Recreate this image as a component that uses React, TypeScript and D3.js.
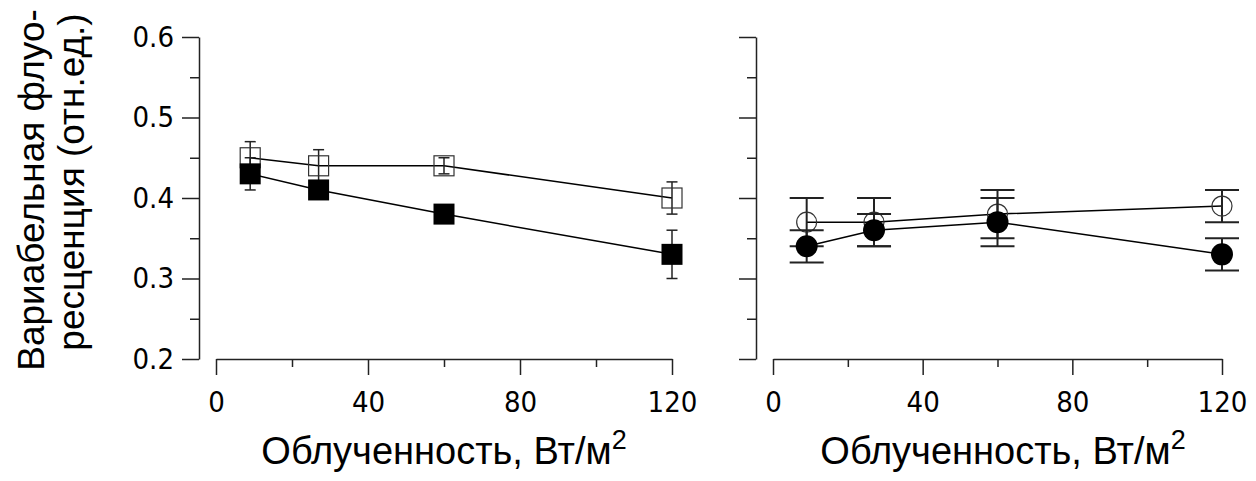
import React, { useEffect, useRef } from 'react';
import * as d3 from 'd3';

// irradiance, W/m2
const irradiance = [9, 27, 60, 120];

// left panel (squares)
const leftOpen = [0.45, 0.44, 0.44, 0.4];
const leftOpenErr = [0.02, 0.02, 0.01, 0.02];
const leftFilled = [0.43, 0.41, 0.38, 0.33];
const leftFilledErr = [0.02, 0.01, 0.01, 0.03];

// right panel (circles)
const rightOpen = [0.37, 0.37, 0.38, 0.39];
const rightOpenErr = [0.03, 0.03, 0.03, 0.02];
const rightFilled = [0.34, 0.36, 0.37, 0.33];
const rightFilledErr = [0.02, 0.02, 0.03, 0.02];

const xMajor = [0, 40, 80, 120];
const xMinor = [20, 60, 100];
const yMajor = [0.2, 0.3, 0.4, 0.5, 0.6];
const yMinor = [0.25, 0.35, 0.45, 0.55];

const xTitle = 'Облученность, Вт/м';
const yTitle1 = 'Вариабельная флуо-';
const yTitle2 = 'ресценция (отн.ед.)';

const W = 1256;
const H = 481;
const tickFont = '"DejaVu Sans Condensed", "DejaVu Sans", Verdana, sans-serif';
const titleFont = '"Liberation Sans", Arial, sans-serif';

const App = () => {
  const ref = useRef<SVGSVGElement>(null);

  useEffect(() => {
    const svg = d3.select(ref.current);
    svg.selectAll('*').remove();

    const y = d3.scaleLinear().domain([0.2, 0.6]).range([359, 37]);

    const panels = [
      {
        axisX: 199, x0: 216, x1: 672, labels: true, titleX: 444, shape: 'square',
        series: [
          { v: leftOpen, e: leftOpenErr, filled: false },
          { v: leftFilled, e: leftFilledErr, filled: true },
        ],
        cap: 5.5, errW: 1.5,
      },
      {
        axisX: 756, x0: 773, x1: 1222, labels: false, titleX: 1003, shape: 'circle',
        series: [
          { v: rightOpen, e: rightOpenErr, filled: false },
          { v: rightFilled, e: rightFilledErr, filled: true },
        ],
        cap: 17, errW: 2,
      },
    ];

    panels.forEach((p) => {
      const x = d3.scaleLinear().domain([0, 120]).range([p.x0, p.x1]);
      const g = svg.append('g');

      // y axis
      const yAx = g.append('g').attr('transform', `translate(${p.axisX},0)`);
      yAx.call(
        d3.axisLeft(y).tickValues(yMajor).tickSize(17).tickSizeOuter(0).tickPadding(8)
          .tickFormat(p.labels ? (d3.format('.1f') as any) : () => '')
      );
      yAx.append('g').call(
        d3.axisLeft(y).tickValues(yMinor).tickSize(9).tickSizeOuter(0).tickFormat(() => '')
      ).select('.domain').remove();

      // x axis
      const xAx = g.append('g').attr('transform', 'translate(0,359)');
      xAx.call(d3.axisBottom(x).tickValues(xMajor).tickSize(16).tickSizeOuter(0).tickPadding(16));
      xAx.append('g').call(
        d3.axisBottom(x).tickValues(xMinor).tickSize(8).tickSizeOuter(0).tickFormat(() => '')
      ).select('.domain').remove();

      g.selectAll('.domain, .tick line').attr('stroke', '#222').attr('stroke-width', 1.5);
      g.selectAll('.tick text')
        .attr('fill', '#000')
        .style('font-family', tickFont)
        .style('font-size', '29px');

      // x title
      const t = g.append('text')
        .attr('x', p.titleX)
        .attr('y', 464)
        .attr('text-anchor', 'middle')
        .style('font-family', titleFont)
        .style('font-size', '38px')
        .text(xTitle);
      t.append('tspan').attr('dy', -15).style('font-size', '27px').text('2');

      // series
      p.series.forEach((s) => {
        const pts = irradiance.map((xi, i) => ({ x: x(xi), y: y(s.v[i]), lo: y(s.v[i] - s.e[i]), hi: y(s.v[i] + s.e[i]) }));

        g.append('path')
          .attr('d', d3.line<any>().x((d) => d.x).y((d) => d.y)(pts))
          .attr('fill', 'none')
          .attr('stroke', '#000')
          .attr('stroke-width', 1.5);

        const eb = g.append('g').attr('stroke', '#222').attr('stroke-width', p.errW);
        pts.forEach((d) => {
          eb.append('line').attr('x1', d.x).attr('x2', d.x).attr('y1', d.lo).attr('y2', d.hi);
          eb.append('line').attr('x1', d.x - p.cap).attr('x2', d.x + p.cap).attr('y1', d.lo).attr('y2', d.lo);
          eb.append('line').attr('x1', d.x - p.cap).attr('x2', d.x + p.cap).attr('y1', d.hi).attr('y2', d.hi);
        });

        const mk = g.append('g');
        pts.forEach((d) => {
          if (p.shape === 'square') {
            const size = s.filled ? 21 : 20;
            mk.append('rect')
              .attr('x', d.x - size / 2).attr('y', d.y - size / 2)
              .attr('width', size).attr('height', size)
              .attr('fill', s.filled ? '#000' : 'none')
              .attr('stroke', s.filled ? 'none' : '#333')
              .attr('stroke-width', 1.2);
          } else {
            mk.append('circle')
              .attr('cx', d.x).attr('cy', d.y)
              .attr('r', s.filled ? 11 : 10)
              .attr('fill', s.filled ? '#000' : 'none')
              .attr('stroke', s.filled ? 'none' : '#333')
              .attr('stroke-width', 1.2);
          }
        });
      });
    });

    // y title
    const yt = svg.append('g').style('font-family', titleFont).style('font-size', '37px').attr('text-anchor', 'middle');
    yt.append('text').attr('transform', 'translate(44,190) rotate(-90)').text(yTitle1);
    yt.append('text').attr('transform', 'translate(84,182) rotate(-90)').text(yTitle2);
  }, []);

  return (
    <svg ref={ref} width={W} height={H} style={{ position: 'absolute', left: 0, top: 0, background: '#fff' }} />
  );
};

export default App;
